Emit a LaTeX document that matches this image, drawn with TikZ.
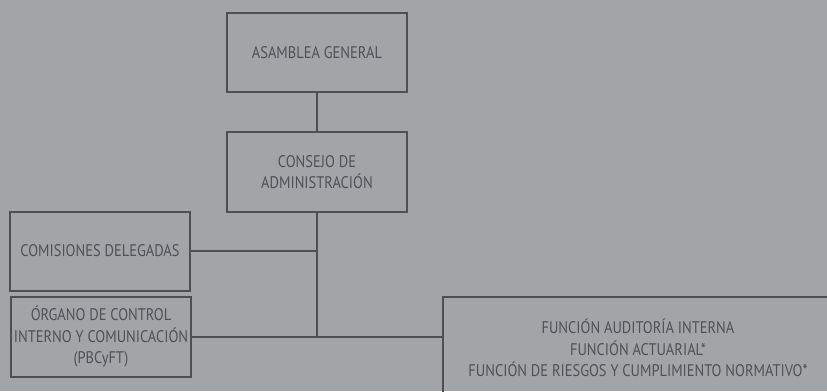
\documentclass[tikz,border=0pt]{standalone}
\usepackage{fontspec}
\setmainfont{PT Sans}[FakeStretch=0.86]
\usetikzlibrary{positioning}
\definecolor{bggrey}{HTML}{A3A4A8}
\definecolor{linegrey}{HTML}{4E4F53}
\definecolor{textgrey}{HTML}{505156}
\tikzset{
  orgbox/.style={draw=linegrey, line width=2pt, minimum width=180pt,
    minimum height=79pt, align=center, text=textgrey, inner sep=2pt,
    font=\fontsize{16.8}{21.5}\selectfont},
  link/.style={draw=linegrey, line width=2pt}
}
\begin{document}
\begin{tikzpicture}[x=1pt,y=-1pt]
  \fill[bggrey] (0,0) rectangle (827,391);
  \useasboundingbox (0,0) rectangle (827,391);
  \begin{scope}
    \clip (0,0) rectangle (827,391);
    \node[orgbox] (asamblea) at (317,52.5) {ASAMBLEA GENERAL};
    \node[orgbox, minimum height=80pt] (consejo) at (317,172) {CONSEJO DE\\ADMINISTRACIÓN};
    \node[orgbox] (comisiones) at (100,251) {COMISIONES DELEGADAS};
    \node[orgbox, minimum height=80pt] (organo) at (101,337) {ÓRGANO DE CONTROL\\INTERNO Y COMUNICACIÓN\\(PBCyFT)};
    \node[orgbox, minimum width=390pt, minimum height=102pt] (funciones) at (638,348)
      {FUNCIÓN AUDITORÍA INTERNA\\FUNCIÓN ACTUARIAL*\\FUNCIÓN DE RIESGOS Y CUMPLIMIENTO NORMATIVO*};
    \coordinate (junction) at (organo.east -| consejo.south);
    % connectors
    \draw[link] (asamblea) -- (consejo);
    \draw[link] (consejo.south) -- (junction);
    \draw[link] (comisiones.east) -- (comisiones.east -| consejo.south);
    \draw[link] (organo.east) -- (organo.east -| funciones.west);
  \end{scope}
\end{tikzpicture}
\end{document}
